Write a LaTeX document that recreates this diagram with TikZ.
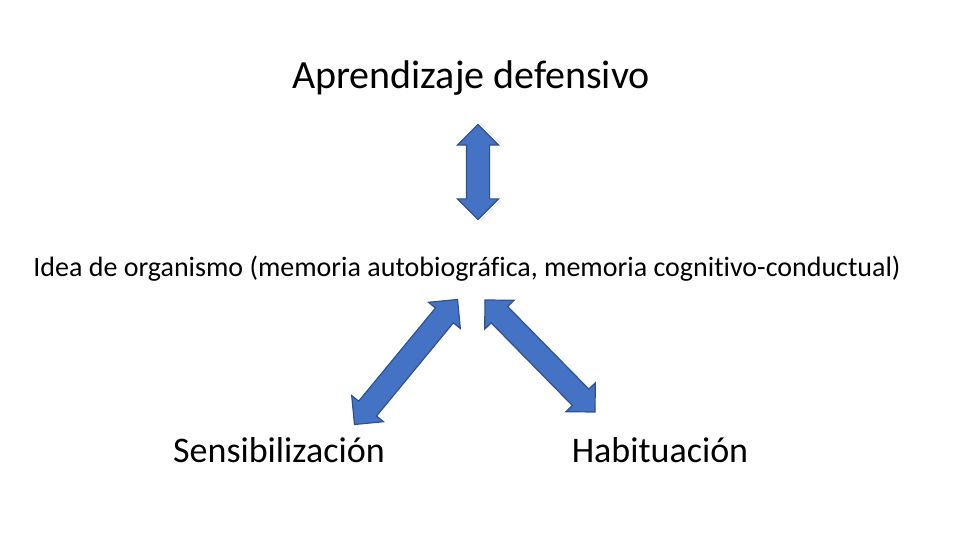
\documentclass[tikz,border=0pt]{standalone}
\usepackage{fontspec}
\setmainfont[Ligatures={NoCommon}]{Carlito}
\usetikzlibrary{shapes.arrows}
\definecolor{ablue}{RGB}{68,114,196}
\definecolor{aedge}{RGB}{47,82,143}
\tikzset{darr/.style={double arrow, fill=ablue, draw=aedge, line width=1.2pt, minimum width=40pt, double arrow head extend=9pt, inner xsep=0pt, inner ysep=11pt, double arrow head indent=0pt}}
\begin{document}
\begin{tikzpicture}[x=1pt,y=1pt]
\useasboundingbox (0,0) rectangle (960,540);
\node (t) at (471,462) {\fontsize{40}{46}\selectfont Aprendizaje defensivo};
\node (m) at (467,271) {\fontsize{28}{33}\selectfont Idea de organismo (memoria autobiográfica, memoria cognitivo-conductual)};
\node (s) at (279,90) {\fontsize{36}{42}\selectfont Sensibilización};
\node (h) at (660,90) {\fontsize{36}{42}\selectfont Habituación};
\node[darr, minimum height=95pt, rotate=90] (a1) at (478,368) {};
\node[darr, minimum height=162pt, rotate=230.5] (a2) at (406,178) {};
\node[darr, minimum height=157pt, rotate=-45.5] (a3) at (540,184) {};
\end{tikzpicture}
\end{document}
